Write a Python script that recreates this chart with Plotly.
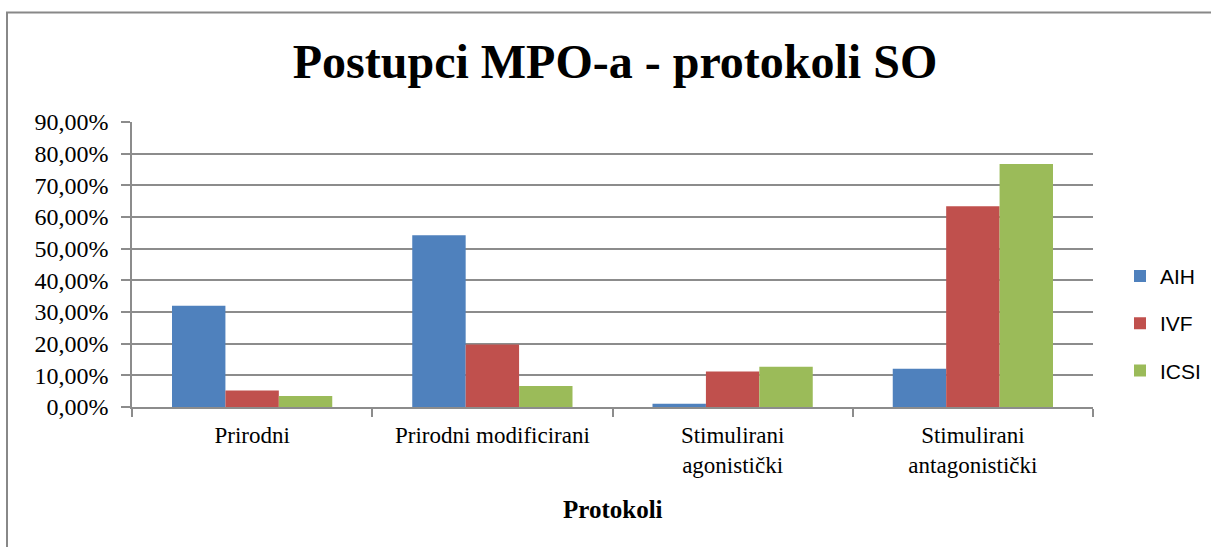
import plotly.graph_objects as go

categories = ["Prirodni", "Prirodni modificirani", "Stimulirani<br>agonistički", "Stimulirani<br>antagonistički"]
aih = [0.320, 0.542, 0.010, 0.121]
ivf = [0.052, 0.197, 0.112, 0.634]
icsi = [0.035, 0.066, 0.127, 0.767]
series_names = ["AIH", "IVF", "ICSI"]
colors = ["#4F81BD", "#C0504D", "#9BBB59"]
y_ticks = [i / 10 for i in range(10)]

W, H = 1211, 547
L, R, T, B = 132, 118, 122, 140
PW, PH = W - L - R, H - T - B

fig = go.Figure()
for name, vals, col in zip(series_names, [aih, ivf, icsi], colors):
    fig.add_trace(go.Bar(name=name, x=categories, y=vals, marker_color=col,
                         marker_line_width=0, legendgroup=name))

serif = "Liberation Serif, Times New Roman, serif"
grid_col = "#8c8c8c"

fig.update_layout(
    width=W, height=H,
    margin=dict(l=L, r=R, t=T, b=B, autoexpand=False),
    paper_bgcolor="white", plot_bgcolor="white",
    separators=", ",
    bargap=0.333, bargroupgap=0,
    title=dict(text="<b>Postupci MPO-a - protokoli SO</b>", x=615 / W, xanchor="center",
               y=1 - 61 / H, yanchor="middle",
               font=dict(family=serif, size=48, color="black")),
    font=dict(family=serif, size=22, color="black"),
    xaxis=dict(showline=True, linecolor=grid_col, linewidth=1.5, ticks="outside",
               tickson="boundaries", ticklen=8, tickcolor=grid_col, tickwidth=1.5,
               tickfont=dict(family=serif, size=23), showgrid=False, ticklabelstandoff=7),
    yaxis=dict(range=[0, 0.9], tickvals=y_ticks + [0.9], tickformat=".2%",
               showline=True, linecolor=grid_col, linewidth=1.5, ticks="outside",
               ticklen=9, tickcolor=grid_col, tickwidth=1.5,
               showgrid=True, gridcolor=grid_col, gridwidth=1.5,
               tickfont=dict(family=serif, size=24), ticklabelstandoff=8,
               zeroline=False),
    legend=dict(x=(1120 - L) / PW, xanchor="left", y=(H - B - 290) / PH + 0.12,
                yanchor="top", font=dict(family="Liberation Sans, Arial, sans-serif", size=21),
                tracegroupgap=17, bgcolor="rgba(0,0,0,0)"),
    showlegend=True,
    annotations=[dict(text="<b>Protokoli</b>", x=0.5, xref="paper", y=-(509 - (H - B)) / PH,
                      yref="paper", yanchor="middle", xanchor="center", showarrow=False,
                      font=dict(family=serif, size=25, color="black"))],
    shapes=[dict(type="rect", xref="paper", yref="paper",
                 x0=(7 - L) / PW, x1=1.5, y0=-2, y1=(H - B - 12.5) / PH,
                 line=dict(color="#888888", width=2), fillcolor="rgba(0,0,0,0)", layer="below")],
)

fig.write_html("out.html", config={"displayModeBar": False},
               post_script="document.body.style.margin='0';document.body.style.overflow='hidden';")
